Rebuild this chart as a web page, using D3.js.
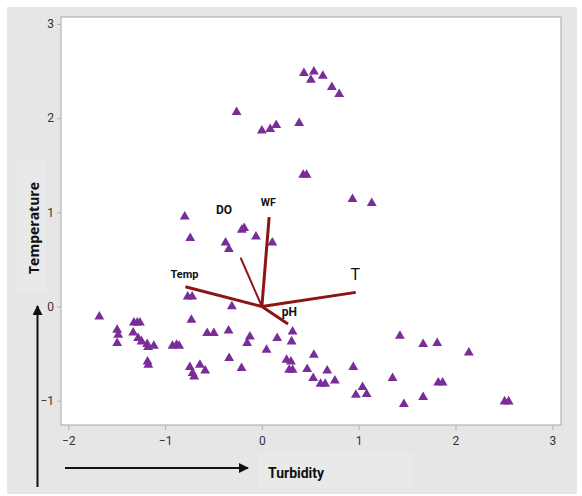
<!DOCTYPE html>
<html>
<head>
<meta charset="utf-8">
<script src="https://cdn.jsdelivr.net/npm/d3@7"></script>
<style>
body { margin: 0; background: #fff; }
svg text { font-family: "Open Sans", sans-serif; }
</style>
</head>
<body>
<div id="viz"></div>
<script>
// Data.
var xTicks = [-2, -1, 0, 1, 2, 3];
var yTicks = [-1, 0, 1, 2, 3];

var ptX = [0.434, 0.537, 0.506, 0.630, 0.723, 0.799, -0.261, 0.0, 0.086, 0.148, 0.385, 0.427, 0.462,
	0.936, 1.135, -0.797, -0.740, -0.375, -0.341, -0.207, -0.183, -0.061, 0.108, -0.766, -0.720,
	-0.310, -1.679, -0.728, -1.322, -1.288, -1.260, -1.495, -1.484, -1.495, -1.329, -1.278, -1.243,
	-1.185, -1.175, -1.116, -1.181, -1.173, -0.923, -0.881, -0.854, -0.565, -0.496, -0.344, -0.744,
	-0.716, -0.699, -0.640, -0.586, -0.338, -0.210, -0.124, -0.152, 0.048, 0.158, 0.317, 0.307,
	0.255, 0.300, 0.282, 0.317, 0.468, 0.530, 0.537, 1.426, 1.666, 1.811, 2.138, 0.675, 0.944,
	0.606, 0.654, 0.754, 1.040, 0.971, 1.082, 1.350, 1.822, 1.867, 1.467, 1.666, 2.507, 2.549];
var ptY = [2.477, 2.494, 2.406, 2.448, 2.328, 2.254, 2.063, 1.867, 1.882, 1.925, 1.946, 1.397, 1.397,
	1.139, 1.097, 0.954, 0.725, 0.679, 0.608, 0.813, 0.831, 0.742, 0.679, 0.105, 0.105,
	0.0, -0.107, -0.142, -0.171, -0.171, -0.171, -0.248, -0.301, -0.390, -0.277, -0.337, -0.372,
	-0.400, -0.432, -0.418, -0.585, -0.620, -0.418, -0.408, -0.418, -0.284, -0.284, -0.256, -0.645,
	-0.708, -0.744, -0.620, -0.680, -0.549, -0.655, -0.320, -0.390, -0.461, -0.337, -0.266, -0.372,
	-0.567, -0.585, -0.673, -0.673, -0.666, -0.761, -0.514, -0.312, -0.400, -0.390, -0.489, -0.680, -0.644,
	-0.822, -0.822, -0.787, -0.857, -0.938, -0.931, -0.761, -0.808, -0.808, -1.037, -0.963, -1.009, -1.009];

var vecNames = ["Temp", "DO", "WF", "T", "pH"];
var vecX = [-0.79, -0.22, 0.075, 0.97, 0.27];
var vecY = [0.21, 0.52, 0.95, 0.15, -0.185];

var width = 582, height = 496;
var narrow = "Roboto, 'Open Sans', sans-serif";

var svg = d3.select("#viz")
	.append("svg")
	.attr("width", width)
	.attr("height", height);

var x = d3.scaleLinear().domain([-2.075, 3.09]).range([61, 561]);
var y = d3.scaleLinear().domain([-1.258, 3.074]).range([425, 17]);

// Background.
svg.append("rect")
	.attr("x", 7).attr("y", 7)
	.attr("width", 570).attr("height", 487)
	.style("fill", "#e6e6e6");

// Faint label boxes.
svg.append("rect")
	.attr("x", 258).attr("y", 453)
	.attr("width", 155).attr("height", 38)
	.style("fill", "#e9e9e9");
svg.append("rect")
	.attr("x", 16).attr("y", 160)
	.attr("width", 30).attr("height", 133)
	.style("fill", "#e9e9e9");

// Plot area.
svg.append("rect")
	.attr("x", x.range()[0]).attr("y", y.range()[1])
	.attr("width", x.range()[1] - x.range()[0])
	.attr("height", y.range()[0] - y.range()[1])
	.style("fill", "#fff")
	.style("stroke", "#b4b4b4")
	.style("stroke-width", 1.2);

// Axes.
var gx = svg.append("g")
	.attr("transform", "translate(0," + y.range()[0] + ")")
	.call(d3.axisBottom(x).tickValues(xTicks).tickFormat(d3.format("d")).tickSize(5).tickPadding(6));
var gy = svg.append("g")
	.attr("transform", "translate(" + x.range()[0] + ",0)")
	.call(d3.axisLeft(y).tickValues(yTicks).tickFormat(d3.format("d")).tickSize(4).tickPadding(3));

[gx, gy].forEach(function (g) {
	g.select(".domain").remove();
	g.selectAll("line").style("stroke", "#b4b4b4");
	g.selectAll("text")
		.style("font-family", narrow)
		.style("font-size", "12px")
		.style("fill", "#333");
});

// Points.
var tri = d3.symbol().type(d3.symbolTriangle).size(42);
for (var i = 0; i < ptX.length; ++i)
{
	svg.append("path")
		.attr("d", tri)
		.attr("transform", "translate(" + x(ptX[i]) + "," + y(ptY[i]) + ")")
		.style("fill", "#7a2c98");
}

// Vectors.
var labelPos = [[-0.80, 0.34], [-0.39, 1.02], [0.066, 1.10], [0.965, 0.335], [0.285, -0.06]];
var labelSize = [11, 12, 10.5, 16, 12];
for (var k = 0; k < vecNames.length; ++k)
{
	svg.append("line")
		.style("stroke", "#8b1414")
		.style("stroke-width", vecNames[k] == "DO" ? 2 : 3)
		.attr("x1", x(0))
		.attr("y1", y(0))
		.attr("x2", x(vecX[k]))
		.attr("y2", y(vecY[k]));

	svg.append("text")
		.attr("x", x(labelPos[k][0]))
		.attr("y", y(labelPos[k][1]))
		.attr("text-anchor", "middle")
		.attr("dominant-baseline", "central")
		.style("font-family", narrow)
		.style("font-weight", vecNames[k] == "T" ? "normal" : "bold")
		.style("font-size", labelSize[k] + "px")
		.style("fill", "#111")
		.text(vecNames[k]);
}

// Arrows.
svg.append("defs").append("marker")
	.attr("id", "head")
	.attr("viewBox", "0 0 10 10")
	.attr("refX", 9).attr("refY", 5)
	.attr("markerWidth", 5).attr("markerHeight", 5)
	.attr("orient", "auto")
	.append("path")
	.attr("d", "M0,0L10,5L0,10Z")
	.style("fill", "#111");

svg.append("line")
	.attr("x1", 65).attr("y1", 468)
	.attr("x2", 248).attr("y2", 468)
	.style("stroke", "#111").style("stroke-width", 2)
	.attr("marker-end", "url(#head)");
svg.append("line")
	.attr("x1", 37.5).attr("y1", 487)
	.attr("x2", 37.5).attr("y2", 306)
	.style("stroke", "#111").style("stroke-width", 2)
	.attr("marker-end", "url(#head)");

// Axis titles.
svg.append("text")
	.attr("x", 268).attr("y", 473)
	.attr("dominant-baseline", "central")
	.style("font-family", narrow)
	.style("font-weight", "bold")
	.style("font-size", "14px")
	.style("fill", "#111")
	.text("Turbidity");
svg.append("text")
	.attr("transform", "translate(33,228) rotate(-90)")
	.attr("text-anchor", "middle")
	.attr("dominant-baseline", "central")
	.style("font-weight", "bold")
	.style("font-size", "14px")
	.style("fill", "#111")
	.text("Temperature");
</script>
</body>
</html>
